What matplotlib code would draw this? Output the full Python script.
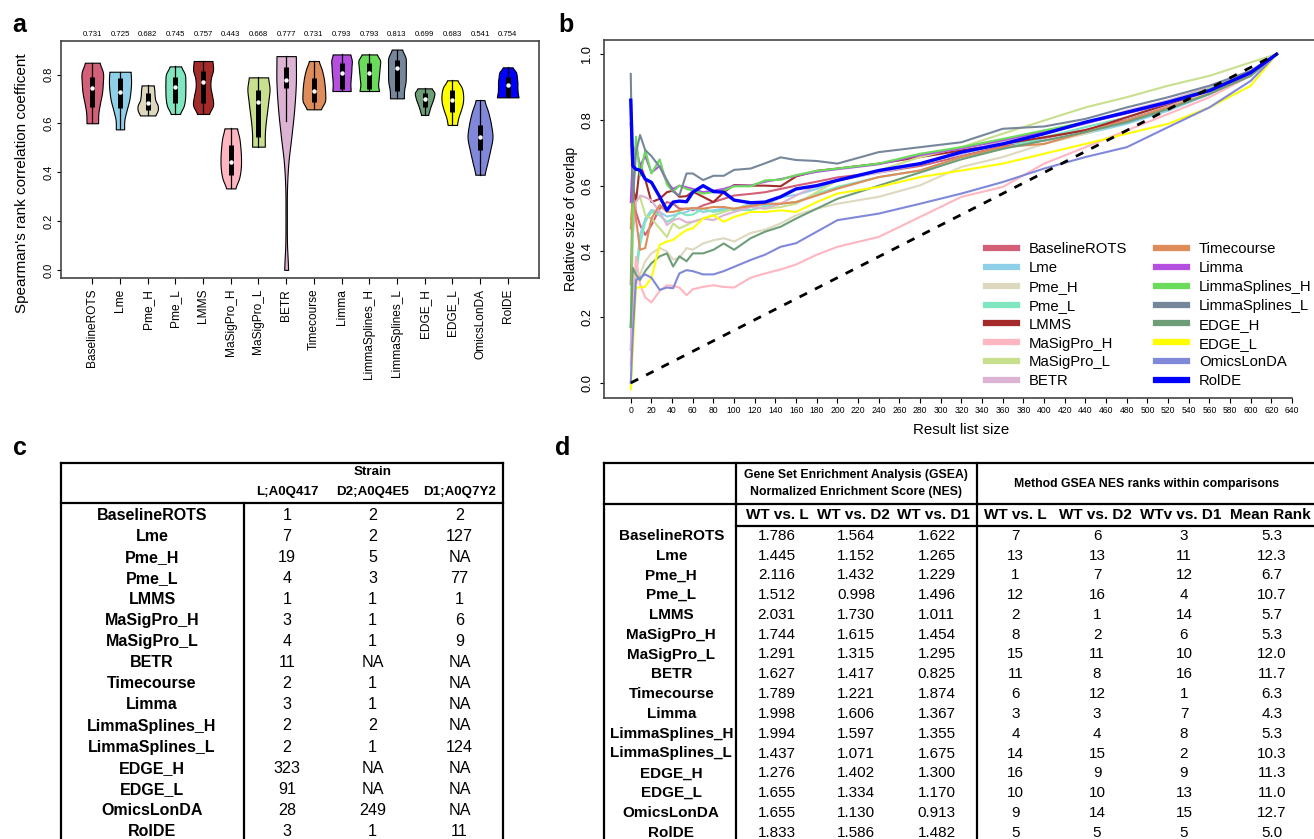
import numpy as np
import matplotlib
matplotlib.use("Agg")
import matplotlib.pyplot as plt
import matplotlib.transforms as mtransforms

plt.rcParams['font.family'] = ['Liberation Sans', 'DejaVu Sans']

W, H = 1314, 839

methods = ['BaselineROTS', 'Lme', 'Pme_H', 'Pme_L', 'LMMS', 'MaSigPro_H', 'MaSigPro_L', 'BETR',
           'Timecourse', 'Limma', 'LimmaSplines_H', 'LimmaSplines_L', 'EDGE_H', 'EDGE_L',
           'OmicsLonDA', 'RolDE']
colors = ['#D35F78', '#8ED0E8', '#DDD8BE', '#7FE6C0', '#A52A2A', '#FFB6C1', '#C8DF8E', '#DDB3D4',
          '#DE8C5A', '#B44FE0', '#6ADB5A', '#76869B', '#6E9E78', '#FFFF00', '#8088DA', '#0000FF']

# ---- panel a: violins ----
top_values = ['0.731', '0.725', '0.682', '0.745', '0.757', '0.443', '0.668', '0.777',
              '0.731', '0.793', '0.793', '0.813', '0.699', '0.683', '0.541', '0.754']
violin_lo = [0.601, 0.576, 0.633, 0.639, 0.639, 0.334, 0.505, 0.0,
             0.658, 0.733, 0.733, 0.703, 0.635, 0.594, 0.390, 0.707]
violin_hi = [0.849, 0.812, 0.756, 0.834, 0.856, 0.580, 0.789, 0.876,
             0.856, 0.883, 0.883, 0.903, 0.744, 0.777, 0.696, 0.830]
whisker_lo = [0.601, 0.576, 0.633, 0.639, 0.639, 0.334, 0.505, 0.61,
              0.658, 0.733, 0.733, 0.703, 0.635, 0.594, 0.390, 0.707]
box_q1 = [0.669, 0.662, 0.655, 0.685, 0.685, 0.389, 0.546, 0.744,
          0.689, 0.740, 0.740, 0.734, 0.669, 0.646, 0.492, 0.710]
box_med = [0.744, 0.728, 0.683, 0.751, 0.770, 0.441, 0.687, 0.778,
           0.734, 0.805, 0.808, 0.826, 0.702, 0.696, 0.544, 0.759]
box_q3 = [0.792, 0.785, 0.723, 0.792, 0.816, 0.512, 0.737, 0.830,
          0.785, 0.846, 0.846, 0.860, 0.723, 0.737, 0.594, 0.792]
# half widths, evenly spaced from violin_lo (first) to violin_hi (last)
violin_width = [
    [0.21, 0.22, 0.28, 0.35, 0.38, 0.385, 0.27],
    [0.15, 0.16, 0.24, 0.33, 0.38, 0.40, 0.385],
    [0.28, 0.36, 0.36, 0.28, 0.25, 0.24, 0.22],
    [0.17, 0.30, 0.35, 0.36, 0.36, 0.34, 0.21],
    [0.22, 0.36, 0.33, 0.27, 0.28, 0.36, 0.34],
    [0.17, 0.30, 0.36, 0.37, 0.35, 0.31, 0.23],
    [0.23, 0.23, 0.26, 0.31, 0.36, 0.40, 0.35],
    [0.07, 0.03, 0.025, 0.03, 0.08, 0.19, 0.29, 0.35, 0.35],
    [0.26, 0.40, 0.41, 0.39, 0.35, 0.28, 0.18],
    [0.33, 0.32, 0.33, 0.35, 0.36, 0.37, 0.32],
    [0.35, 0.32, 0.34, 0.36, 0.38, 0.39, 0.28],
    [0.25, 0.26, 0.31, 0.32, 0.32, 0.31, 0.19],
    [0.13, 0.17, 0.22, 0.28, 0.33, 0.35, 0.26],
    [0.17, 0.22, 0.31, 0.38, 0.39, 0.34, 0.19],
    [0.17, 0.27, 0.37, 0.45, 0.40, 0.30, 0.16],
    [0.39, 0.36, 0.35, 0.35, 0.33, 0.30, 0.18],
]

# ---- panel b: overlap curves ----
list_size = [0, 2, 5, 9, 14, 20, 28, 35, 41, 47, 54, 60, 70, 80, 90, 100, 116, 130, 145, 160,
             180, 200, 240, 280, 320, 360, 400, 440, 480, 520, 560, 600, 625]
ov_baselinerots = [0.30, 0.60, 0.52, 0.48, 0.45, 0.48, 0.53, 0.55, 0.545, 0.53, 0.53, 0.525, 0.54, 0.55, 0.56, 0.57, 0.575, 0.58, 0.59, 0.60, 0.612, 0.625, 0.64, 0.66, 0.69, 0.72, 0.745, 0.77, 0.80, 0.84, 0.88, 0.94, 1.0]
ov_lme = [0.10, 0.25, 0.33, 0.45, 0.50, 0.526, 0.52, 0.506, 0.51, 0.515, 0.52, 0.53, 0.52, 0.525, 0.53, 0.526, 0.546, 0.54, 0.565, 0.572, 0.59, 0.616, 0.64, 0.665, 0.697, 0.727, 0.737, 0.758, 0.788, 0.828, 0.878, 0.94, 1.0]
ov_pme_h = [0.05, 0.20, 0.30, 0.33, 0.37, 0.394, 0.41, 0.40, 0.375, 0.38, 0.41, 0.405, 0.424, 0.434, 0.44, 0.43, 0.456, 0.466, 0.485, 0.51, 0.53, 0.545, 0.566, 0.601, 0.657, 0.687, 0.727, 0.758, 0.798, 0.838, 0.884, 0.94, 1.0]
ov_pme_l = [0.17, 0.25, 0.33, 0.42, 0.49, 0.52, 0.51, 0.49, 0.50, 0.52, 0.51, 0.512, 0.53, 0.52, 0.525, 0.526, 0.526, 0.536, 0.545, 0.55, 0.575, 0.596, 0.626, 0.646, 0.687, 0.712, 0.747, 0.778, 0.808, 0.848, 0.889, 0.944, 1.0]
ov_lmms = [0.79, 0.60, 0.55, 0.666, 0.62, 0.55, 0.56, 0.58, 0.585, 0.566, 0.568, 0.582, 0.566, 0.55, 0.58, 0.602, 0.60, 0.60, 0.598, 0.628, 0.645, 0.652, 0.667, 0.687, 0.707, 0.727, 0.747, 0.768, 0.808, 0.848, 0.889, 0.944, 1.0]
ov_masigpro_h = [0.06, 0.20, 0.384, 0.30, 0.26, 0.245, 0.28, 0.297, 0.295, 0.29, 0.267, 0.285, 0.292, 0.297, 0.292, 0.29, 0.32, 0.333, 0.345, 0.36, 0.39, 0.414, 0.444, 0.505, 0.566, 0.596, 0.667, 0.717, 0.768, 0.818, 0.869, 0.934, 1.0]
ov_masigpro_l = [0.50, 0.53, 0.55, 0.566, 0.51, 0.50, 0.47, 0.444, 0.485, 0.47, 0.48, 0.49, 0.50, 0.51, 0.52, 0.53, 0.54, 0.53, 0.535, 0.545, 0.58, 0.616, 0.646, 0.687, 0.717, 0.758, 0.798, 0.838, 0.869, 0.904, 0.934, 0.975, 1.0]
ov_betr = [0.10, 0.45, 0.55, 0.57, 0.565, 0.555, 0.52, 0.48, 0.495, 0.50, 0.488, 0.49, 0.50, 0.495, 0.51, 0.52, 0.535, 0.53, 0.545, 0.57, 0.60, 0.616, 0.64, 0.667, 0.697, 0.737, 0.758, 0.788, 0.828, 0.859, 0.899, 0.95, 1.0]
ov_timecourse = [0.47, 0.58, 0.50, 0.405, 0.41, 0.50, 0.541, 0.52, 0.52, 0.525, 0.53, 0.532, 0.53, 0.535, 0.535, 0.53, 0.538, 0.545, 0.545, 0.55, 0.57, 0.591, 0.626, 0.646, 0.687, 0.717, 0.727, 0.763, 0.798, 0.838, 0.879, 0.94, 1.0]
ov_limma = [0.55, 0.70, 0.72, 0.66, 0.69, 0.64, 0.66, 0.61, 0.59, 0.60, 0.595, 0.59, 0.58, 0.585, 0.59, 0.60, 0.60, 0.612, 0.62, 0.63, 0.642, 0.65, 0.665, 0.693, 0.713, 0.738, 0.765, 0.79, 0.82, 0.85, 0.89, 0.94, 1.0]
ov_limmasplines_h = [0.17, 0.55, 0.749, 0.63, 0.708, 0.637, 0.68, 0.604, 0.582, 0.60, 0.59, 0.585, 0.576, 0.58, 0.585, 0.598, 0.598, 0.616, 0.618, 0.632, 0.645, 0.652, 0.667, 0.697, 0.717, 0.742, 0.768, 0.793, 0.823, 0.854, 0.894, 0.944, 1.0]
ov_limmasplines_l = [0.94, 0.55, 0.70, 0.754, 0.708, 0.69, 0.657, 0.617, 0.582, 0.57, 0.637, 0.637, 0.617, 0.63, 0.63, 0.648, 0.652, 0.668, 0.686, 0.678, 0.675, 0.667, 0.702, 0.717, 0.732, 0.773, 0.78, 0.803, 0.838, 0.869, 0.904, 0.949, 1.0]
ov_edge_h = [0.17, 0.35, 0.33, 0.313, 0.34, 0.364, 0.385, 0.394, 0.354, 0.385, 0.37, 0.394, 0.394, 0.405, 0.424, 0.405, 0.44, 0.46, 0.475, 0.50, 0.53, 0.56, 0.60, 0.64, 0.68, 0.712, 0.737, 0.763, 0.793, 0.833, 0.879, 0.934, 1.0]
ov_edge_l = [-0.02, 0.10, 0.29, 0.29, 0.293, 0.32, 0.42, 0.43, 0.435, 0.45, 0.465, 0.47, 0.50, 0.51, 0.49, 0.505, 0.52, 0.52, 0.525, 0.52, 0.55, 0.576, 0.596, 0.626, 0.646, 0.667, 0.697, 0.727, 0.758, 0.788, 0.838, 0.904, 1.0]
ov_omicslonda = [0.0, 0.15, 0.313, 0.32, 0.33, 0.32, 0.283, 0.29, 0.288, 0.333, 0.343, 0.34, 0.33, 0.33, 0.34, 0.353, 0.374, 0.39, 0.414, 0.425, 0.46, 0.495, 0.515, 0.545, 0.576, 0.611, 0.652, 0.687, 0.717, 0.778, 0.838, 0.919, 1.0]
ov_rolde = [0.86, 0.66, 0.65, 0.647, 0.62, 0.61, 0.566, 0.525, 0.55, 0.553, 0.551, 0.58, 0.60, 0.582, 0.58, 0.556, 0.548, 0.55, 0.566, 0.59, 0.60, 0.616, 0.646, 0.667, 0.702, 0.727, 0.758, 0.793, 0.823, 0.854, 0.889, 0.944, 1.0]
overlap = [ov_baselinerots, ov_lme, ov_pme_h, ov_pme_l, ov_lmms, ov_masigpro_h, ov_masigpro_l, ov_betr,
           ov_timecourse, ov_limma, ov_limmasplines_h, ov_limmasplines_l, ov_edge_h, ov_edge_l,
           ov_omicslonda, ov_rolde]

# ---- panel c table ----
strain_cols = ['L;A0Q417', 'D2;A0Q4E5', 'D1;A0Q7Y2']
strain_rank_l = ['1', '7', '19', '4', '1', '3', '4', '11', '2', '3', '2', '2', '323', '91', '28', '3']
strain_rank_d2 = ['2', '2', '5', '3', '1', '1', '1', 'NA', '1', '1', '2', '1', 'NA', 'NA', '249', '1']
strain_rank_d1 = ['2', '127', 'NA', '77', '1', '6', '9', 'NA', 'NA', 'NA', 'NA', '124', 'NA', 'NA', 'NA', '11']

# ---- panel d table ----
d_cols = ['WT vs. L', 'WT vs. D2', 'WT vs. D1', 'WT vs. L', 'WT vs. D2', 'WTv vs. D1', 'Mean Rank']
nes_l = ['1.786', '1.445', '2.116', '1.512', '2.031', '1.744', '1.291', '1.627', '1.789', '1.998', '1.994', '1.437', '1.276', '1.655', '1.655', '1.833']
nes_d2 = ['1.564', '1.152', '1.432', '0.998', '1.730', '1.615', '1.315', '1.417', '1.221', '1.606', '1.597', '1.071', '1.402', '1.334', '1.130', '1.586']
nes_d1 = ['1.622', '1.265', '1.229', '1.496', '1.011', '1.454', '1.295', '0.825', '1.874', '1.367', '1.355', '1.675', '1.300', '1.170', '0.913', '1.482']
rank_l = ['7', '13', '1', '12', '2', '8', '15', '11', '6', '3', '4', '14', '16', '10', '9', '5']
rank_d2 = ['6', '13', '7', '16', '1', '2', '11', '8', '12', '3', '4', '15', '9', '10', '14', '5']
rank_d1 = ['3', '11', '12', '4', '14', '6', '10', '16', '1', '7', '8', '2', '9', '13', '15', '5']
mean_rank = ['5.3', '12.3', '6.7', '10.7', '5.7', '5.3', '12.0', '11.7', '6.3', '4.3', '5.3', '10.3', '11.3', '11.0', '12.7', '5.0']


def catmull(ws, per=14):
    w = np.concatenate([[ws[0]], ws, [ws[-1]]])
    t = np.linspace(0, 1, per, endpoint=False)
    out = []
    for i in range(len(ws) - 1):
        p0, p1, p2, p3 = w[i], w[i + 1], w[i + 2], w[i + 3]
        out.append(0.5 * (2 * p1 + (-p0 + p2) * t + (2 * p0 - 5 * p1 + 4 * p2 - p3) * t ** 2
                          + (-p0 + 3 * p1 - 3 * p2 + p3) * t ** 3))
    out.append([ws[-1]])
    return np.concatenate(out)


fig = plt.figure(figsize=(W / 100, H / 100), dpi=100)
SPINE = '#444444'

# ================= panel a =================
ax = fig.add_axes([61 / W, 1 - 277.7 / H, 478 / W, 236.7 / H])
pos = np.arange(1, len(methods) + 1)
for i, p in enumerate(pos):
    ws = np.array(violin_width[i])
    hw = catmull(ws)
    yy = np.linspace(violin_lo[i], violin_hi[i], len(hw))
    ax.fill_betweenx(yy, p - hw, p + hw, facecolor=colors[i], edgecolor='black', lw=0.8, zorder=2)
    ax.plot([p, p], [whisker_lo[i], violin_hi[i]], color='black', lw=0.9, zorder=3)
    ax.plot([p, p], [box_q1[i], box_q3[i]], color='black', lw=3.6, solid_capstyle='butt', zorder=4)
    ax.plot(p, box_med[i], 'o', color='white', ms=3.2, mew=0, zorder=5)

trans = mtransforms.blended_transform_factory(ax.transData, ax.transAxes)
for p, v in zip(pos, top_values):
    ax.text(p, 1.012, v, transform=trans, ha='center', va='bottom', fontsize=5.6)

ax.set_xlim(-0.13, 17.13)
ax.set_ylim(-0.032, 0.938)
ax.set_xticks(pos)
ax.set_xticklabels(methods, rotation=90, fontsize=8.6)
ax.set_yticks([0.0, 0.2, 0.4, 0.6, 0.8])
ax.set_yticklabels(['0.0', '0.2', '0.4', '0.6', '0.8'], rotation=90, va='center', fontsize=8)
ax.tick_params(axis='x', length=4, width=0.8, pad=4)
ax.tick_params(axis='y', length=3, width=0.8, pad=2)
ax.set_ylabel("Spearman's rank correlation coefficent", fontsize=11)
ax.yaxis.set_label_coords(-0.066, 0.40)
for s in ax.spines.values():
    s.set_color(SPINE)
    s.set_linewidth(1.2)

# ================= panel b =================
bx = fig.add_axes([604.3 / W, 1 - 397.7 / H, 714.3 / W, 357.7 / H])
for i, m in enumerate(methods):
    lw = 2.4 if m == 'RolDE' else 1.5
    bx.plot(list_size, overlap[i], color=colors[i], lw=lw, label=m, zorder=2)
bx.plot([list_size[0], list_size[-1]], [0.0, 1.0], color='black', lw=2, ls=(0, (3, 3.2)), zorder=3)
bx.set_xlim(-25.6, 665.6)
bx.set_ylim(-0.045, 1.043)
bx.set_xticks(np.arange(0, 641, 20))
bx.set_xticklabels([str(v) for v in range(0, 641, 20)], fontsize=6.2)
bx.set_yticks([0.0, 0.2, 0.4, 0.6, 0.8, 1.0])
bx.set_yticklabels(['0.0', '0.2', '0.4', '0.6', '0.8', '1.0'], rotation=90, va='center', fontsize=9.3)
bx.tick_params(axis='x', length=3.5, width=0.8, pad=2.5)
bx.tick_params(axis='y', length=3, width=0.8, pad=5)
bx.set_xlabel('Result list size', fontsize=10.8, labelpad=6)
bx.set_ylabel('Relative size of overlap', fontsize=10, labelpad=2)
for s in bx.spines.values():
    s.set_color(SPINE)
    s.set_linewidth(1.2)
bx.spines['right'].set_visible(False)
bx.spines['bottom'].set_bounds(-25.6, 640)
leg = bx.legend(ncol=2, loc='upper left', bbox_to_anchor=(986 / W, 1 - 242 / H),
                bbox_transform=fig.transFigure, frameon=False, fontsize=10.7,
                handlelength=2.1, handletextpad=0.8, columnspacing=1.9,
                labelspacing=0.33, borderpad=0, borderaxespad=0)
for h in leg.get_lines():
    h.set_linewidth(4.5)

# ================= tables (pixel overlay) =================
tx = fig.add_axes([0, 0, 1, 1])
tx.set_xlim(0, W)
tx.set_ylim(H, 0)
tx.axis('off')
tx.patch.set_visible(False)

LW = 1.6
# panel c
c_left, c_right, c_top, c_head, c_div = 60.7, 503, 462.7, 503, 243.6
c_label_x = 152
c_col_x = [287, 372.5, 459.6]
c_row0, c_step = 515, 21.1
tx.plot([c_left, c_right], [c_top, c_top], color='black', lw=LW)
tx.plot([c_left, c_right], [c_head, c_head], color='black', lw=LW)
tx.plot([c_left, c_left], [c_top, H], color='black', lw=LW)
tx.plot([c_right, c_right], [c_top, H], color='black', lw=LW)
tx.plot([c_div, c_div], [c_head, H], color='black', lw=LW)
tx.text(c_col_x[1], 472, 'Strain', ha='center', va='center', fontsize=9.6, fontweight='bold')
for x, lab in zip(c_col_x, strain_cols):
    tx.text(x, 492, lab, ha='center', va='center', fontsize=9.6, fontweight='bold')
for r, m in enumerate(methods):
    y = c_row0 + r * c_step
    tx.text(c_label_x, y, m, ha='center', va='center', fontsize=11.5, fontweight='bold')
    for x, col in zip(c_col_x, [strain_rank_l, strain_rank_d2, strain_rank_d1]):
        tx.text(x, y, col[r], ha='center', va='center', fontsize=11.6)

# panel d
d_left, d_top, d_line1, d_line2, d_v1, d_v2, d_right = 604.3, 463.3, 504, 525.7, 736, 976.5, W + 5
d_label_x = 671.3
d_head_x = [777.6, 853.9, 933.5, 1015.4, 1095, 1180.6, 1270.5]
d_val_x = [776.6, 856, 936.7, 1015.4, 1097, 1184, 1272]
d_row0, d_step = 535.7, 19.8
tx.plot([d_left, d_right], [d_top, d_top], color='black', lw=LW)
tx.plot([d_left, d_right], [d_line1, d_line1], color='black', lw=LW)
tx.plot([d_v1, d_right], [d_line2, d_line2], color='black', lw=LW)
for x in [d_left, d_v1, d_v2]:
    tx.plot([x, x], [d_top, H], color='black', lw=LW)
tx.text(856, 474.7, 'Gene Set Enrichment Analysis (GSEA)', ha='center', va='center', fontsize=8.8, fontweight='bold')
tx.text(856, 492.3, 'Normalized Enrichment Score (NES)', ha='center', va='center', fontsize=8.8, fontweight='bold')
tx.text(1146.5, 483.7, 'Method GSEA NES ranks within comparisons', ha='center', va='center', fontsize=8.8, fontweight='bold')
for x, lab in zip(d_head_x, d_cols):
    tx.text(x, 515, lab, ha='center', va='center', fontsize=11, fontweight='bold')
for r, m in enumerate(methods):
    y = d_row0 + r * d_step
    tx.text(d_label_x, y, m, ha='center', va='center', fontsize=11, fontweight='bold')
    for x, col in zip(d_val_x, [nes_l, nes_d2, nes_d1, rank_l, rank_d2, rank_d1, mean_rank]):
        tx.text(x, y, col[r], ha='center', va='center', fontsize=11)

# panel letters
for lab, x, y in [('a', 19.5, 32), ('b', 566, 32), ('c', 19.5, 455), ('d', 563, 455)]:
    tx.text(x, y, lab, ha='center', va='baseline', fontsize=18, fontweight='bold')

fig.savefig('out.png', dpi=100)
